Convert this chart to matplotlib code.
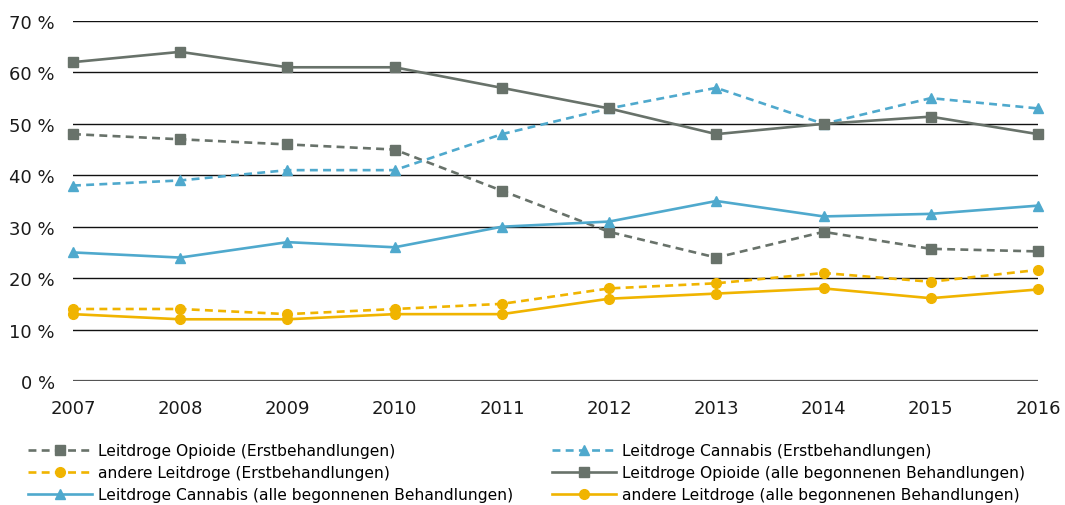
import matplotlib
matplotlib.use("Agg")
import matplotlib.pyplot as plt

years = [2007, 2008, 2009, 2010, 2011, 2012, 2013, 2014, 2015, 2016]
opioide_erst = [48, 47, 46, 45, 37, 29, 24, 29, 25.7, 25.2]
cannabis_erst = [38, 39, 41, 41, 48, 53, 57, 50, 55, 53]
andere_erst = [14, 14, 13, 14, 15, 18, 19, 21, 19.3, 21.6]
opioide_alle = [62, 64, 61, 61, 57, 53, 48, 50, 51.4, 48]
cannabis_alle = [25, 24, 27, 26, 30, 31, 35, 32, 32.5, 34.1]
andere_alle = [13, 12, 12, 13, 13, 16, 17, 18, 16.1, 17.8]
y_ticks = [0, 10, 20, 30, 40, 50, 60, 70]
y_labels = ["0 %", "10 %", "20 %", "30 %", "40 %", "50 %", "60 %", "70 %"]

labels = {
    "oe": "Leitdroge Opioide (Erstbehandlungen)",
    "ce": "Leitdroge Cannabis (Erstbehandlungen)",
    "ae": "andere Leitdroge (Erstbehandlungen)",
    "oa": "Leitdroge Opioide (alle begonnenen Behandlungen)",
    "ca": "Leitdroge Cannabis (alle begonnenen Behandlungen)",
    "aa": "andere Leitdroge (alle begonnenen Behandlungen)",
}

gray = "#68726a"
blue = "#4fa9cd"
yellow = "#f0b400"

plt.rcParams['font.family'] = ['DejaVu Sans']
fig = plt.figure(figsize=(10.65, 5.06), dpi=100)
ax = fig.add_axes([73/1065, 1-382/506, (1038-73)/1065, (382-22)/506])

for t in y_ticks:
    if t == 0:
        ax.axhline(t, color="#555555", lw=1.6, zorder=1)
    else:
        ax.axhline(t, color="#111111", lw=1.0, zorder=1)

lw = 1.9
dash = (0, (3, 2))
h = {}
h["oe"], = ax.plot(years, opioide_erst, color=gray, lw=lw, ls=dash, marker="s", ms=7, clip_on=False, zorder=3)
h["ce"], = ax.plot(years, cannabis_erst, color=blue, lw=lw, ls=dash, marker="^", ms=7, clip_on=False, zorder=3)
h["ae"], = ax.plot(years, andere_erst, color=yellow, lw=lw, ls=dash, marker="o", ms=7, clip_on=False, zorder=3)
h["oa"], = ax.plot(years, opioide_alle, color=gray, lw=lw, marker="s", ms=7, clip_on=False, zorder=3)
h["ca"], = ax.plot(years, cannabis_alle, color=blue, lw=lw, marker="^", ms=7, clip_on=False, zorder=3)
h["aa"], = ax.plot(years, andere_alle, color=yellow, lw=lw, marker="o", ms=7, clip_on=False, zorder=3)

ax.set_xlim(2007, 2016)
ax.set_ylim(0, 70)
ax.set_yticks(y_ticks)
ax.set_yticklabels(y_labels)
ax.set_xticks(years)
ax.set_xticklabels([str(y) for y in years])
ax.tick_params(axis="both", length=0, labelsize=13, colors="#1a1a1a")
ax.tick_params(axis="y", pad=13)
ax.tick_params(axis="x", pad=13)
for s in ax.spines.values():
    s.set_visible(False)

order = ["oe", "ae", "ca", "ce", "oa", "aa"]
fig.legend([h[k] for k in order], [labels[k] for k in order], ncol=2,
           loc="upper left", bbox_to_anchor=(28/1065, 1-444/506), frameon=False,
           fontsize=11.2, handlelength=4.1, handletextpad=0.4, labelspacing=0.45,
           columnspacing=2.5, borderaxespad=0, borderpad=0)

fig.savefig("out.png", dpi=100)
